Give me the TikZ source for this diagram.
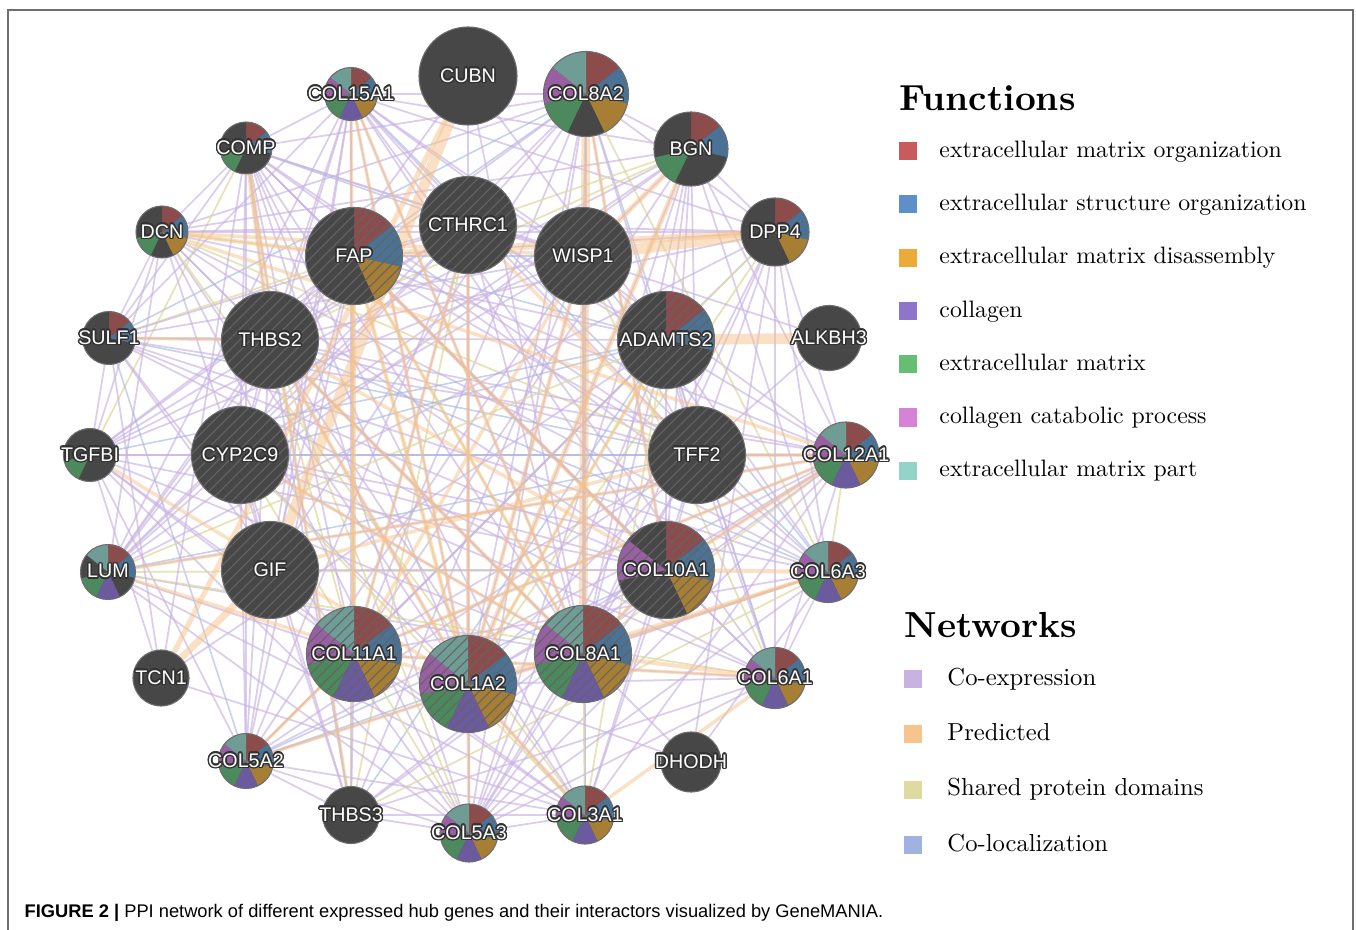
\documentclass[tikz,border=0pt]{standalone}
\usepackage{fontspec}
\usepackage{contour}
\usetikzlibrary{patterns.meta}
\newfontfamily\genefont{Liberation Sans}
\contourlength{0.4pt}
\contournumber{16}

\definecolor{nodegrey}{RGB}{71,71,71}
\definecolor{rimgrey}{RGB}{110,110,110}
\definecolor{hatchgrey}{RGB}{100,100,100}
\definecolor{outlinegrey}{RGB}{50,50,50}
\definecolor{framegrey}{RGB}{110,110,110}
% slice colours
\definecolor{sred}{RGB}{141,76,76}
\definecolor{sblue}{RGB}{74,114,148}
\definecolor{sgold}{RGB}{166,126,52}
\definecolor{spurple}{RGB}{108,90,158}
\definecolor{sgreen}{RGB}{76,137,92}
\definecolor{spink}{RGB}{152,96,162}
\definecolor{steal}{RGB}{112,156,150}
% legend colours
\definecolor{fred}{RGB}{200,92,92}
\definecolor{fblue}{RGB}{94,144,199}
\definecolor{fgold}{RGB}{236,170,56}
\definecolor{fpurple}{RGB}{143,116,204}
\definecolor{fgreen}{RGB}{102,190,115}
\definecolor{fpink}{RGB}{214,131,214}
\definecolor{fteal}{RGB}{148,212,200}
% network colours
\definecolor{coexp}{RGB}{200,178,226}
\definecolor{predicted}{RGB}{246,196,140}
\definecolor{shared}{RGB}{222,218,160}
\definecolor{coloc}{RGB}{160,178,225}

\pgfdeclarelayer{edges}
\pgfsetlayers{edges,main}

\tikzstyle{gene} =
        [
                circle,
                inner sep = 0pt,
                fill = nodegrey,
                draw = rimgrey,
                line width = 0.3pt,
                text = white,
                font = \genefont\fontsize{5.6}{6}\selectfont
        ]
\tikzstyle{hatched} =
        [
                postaction = {pattern = {Lines[angle=45, distance=2.2pt, line width=0.3pt]},
                              pattern color = hatchgrey}
        ]
\tikzstyle{coexpline} = [draw = coexp, line width = 0.5pt, draw opacity = 0.65]
\tikzstyle{sharedline} = [draw = shared, line width = 0.5pt, draw opacity = 0.75]
\tikzstyle{colocline} = [draw = coloc, line width = 0.45pt, draw opacity = 0.6]
\tikzstyle{predline} = [draw = predicted, draw opacity = 0.5]
\tikzstyle{legendbox} = [rectangle, inner sep = 0pt, minimum size = 1.8mm]
\tikzstyle{legendhead} = [inner sep = 0pt, font = \bfseries\fontsize{10}{12}\selectfont, scale = 1.03, transform shape]
\tikzstyle{functext} = [inner sep = 0pt, font = \fontsize{10}{12}\selectfont, scale = 0.676, transform shape]
\tikzstyle{nettext} = [inner sep = 0pt, font = \fontsize{10}{12}\selectfont, scale = 0.70, transform shape]

\tikzset{pie/.style = {path picture = {\drawslices{#1}}}}

\newcommand{\drawslices}[1]{%
  \foreach \col [count=\k from 0] in {#1}{%
    \fill[\col] (path picture bounding box.center) -- ++({90-51.4286*\k}:1cm)
      arc[start angle={90-51.4286*\k}, delta angle=-51.4286, radius=1cm] -- cycle;}}
\newcommand{\glabel}[1]{\makebox[0pt]{\contour{outlinegrey}{#1}}}

\begin{document}
\begin{tikzpicture}[x=0.01cm, y=-0.01cm]
    \useasboundingbox (0,0) rectangle (1356,930);
    \draw[framegrey, line width=0.5pt] (8,930) -- (8,10) -- (1353,10) -- (1353,930);

    % outer ring of genes
    \node [gene, minimum size=9.8mm] (CUBN) at (468,76) {\glabel{CUBN}};
    \node [gene, minimum size=5.3mm, pie={sred,sblue,sgold,spurple,sgreen,spink,steal}] (COL15A1) at (351,94) {\glabel{COL15A1}};
    \node [gene, minimum size=8.5mm, pie={sred,sblue,sgold,nodegrey,sgreen,spink,steal}] (COL8A2) at (586,94) {\glabel{COL8A2}};
    \node [gene, minimum size=5.2mm, pie={sred,sblue,nodegrey,nodegrey,sgreen,nodegrey,nodegrey}] (COMP) at (246,148) {\glabel{COMP}};
    \node [gene, minimum size=7.4mm, pie={sred,sblue,nodegrey,nodegrey,sgreen,nodegrey,nodegrey}] (BGN) at (691,149) {\glabel{BGN}};
    \node [gene, minimum size=5.2mm, pie={sred,sblue,sgold,nodegrey,sgreen,nodegrey,nodegrey}] (DCN) at (162,232) {\glabel{DCN}};
    \node [gene, minimum size=6.8mm, pie={sred,sblue,sgold,nodegrey,nodegrey,nodegrey,nodegrey}] (DPP4) at (775,232) {\glabel{DPP4}};
    \node [gene, minimum size=5.3mm, pie={sred,sblue,nodegrey,nodegrey,nodegrey,nodegrey,nodegrey}] (SULF1) at (109,338) {\glabel{SULF1}};
    \node [gene, minimum size=6.5mm] (ALKBH3) at (829,338) {\glabel{ALKBH3}};
    \node [gene, minimum size=5.3mm, pie={nodegrey,nodegrey,nodegrey,nodegrey,sgreen,nodegrey,nodegrey}] (TGFBI) at (90,455) {\glabel{TGFBI}};
    \node [gene, minimum size=6.6mm, pie={sred,sblue,sgold,spurple,sgreen,spink,steal}] (COL12A1) at (846,455) {\glabel{COL12A1}};
    \node [gene, minimum size=5.5mm, pie={sred,sblue,nodegrey,spurple,sgreen,nodegrey,steal}] (LUM) at (108,572) {\glabel{LUM}};
    \node [gene, minimum size=6.1mm, pie={sred,sblue,sgold,spurple,sgreen,spink,steal}] (COL6A3) at (828,572) {\glabel{COL6A3}};
    \node [gene, minimum size=5.6mm] (TCN1) at (161,678) {\glabel{TCN1}};
    \node [gene, minimum size=6.1mm, pie={sred,sblue,sgold,spurple,sgreen,spink,steal}] (COL6A1) at (775,678) {\glabel{COL6A1}};
    \node [gene, minimum size=5.5mm, pie={sred,sblue,sgold,spurple,sgreen,spink,steal}] (COL5A2) at (246,761) {\glabel{COL5A2}};
    \node [gene, minimum size=6.0mm] (DHODH) at (691,762) {\glabel{DHODH}};
    \node [gene, minimum size=5.7mm] (THBS3) at (351,815) {\glabel{THBS3}};
    \node [gene, minimum size=5.8mm, pie={sred,sblue,sgold,spurple,sgreen,spink,steal}] (COL5A3) at (469,833) {\glabel{COL5A3}};
    \node [gene, minimum size=5.8mm, pie={sred,sblue,sgold,spurple,sgreen,spink,steal}] (COL3A1) at (585,815) {\glabel{COL3A1}};

    % query genes (hatched)
    \node [gene, hatched, minimum size=9.7mm, pie={sred,sblue,sgold,nodegrey,nodegrey,nodegrey,nodegrey}] (FAP) at (354,256) {\glabel{FAP}};
    \node [gene, hatched, minimum size=9.7mm] (CTHRC1) at (468,225) {\glabel{CTHRC1}};
    \node [gene, hatched, minimum size=9.7mm] (WISP1) at (583,256) {\glabel{WISP1}};
    \node [gene, hatched, minimum size=9.7mm] (THBS2) at (270,340) {\glabel{THBS2}};
    \node [gene, hatched, minimum size=9.7mm, pie={sred,sblue,nodegrey,nodegrey,nodegrey,nodegrey,nodegrey}] (ADAMTS2) at (666,340) {\glabel{ADAMTS2}};
    \node [gene, hatched, minimum size=9.7mm] (CYP2C9) at (240,455) {\glabel{CYP2C9}};
    \node [gene, hatched, minimum size=9.7mm] (TFF2) at (697,455) {\glabel{TFF2}};
    \node [gene, hatched, minimum size=9.7mm] (GIF) at (270,570) {\glabel{GIF}};
    \node [gene, hatched, minimum size=9.7mm, pie={sred,sblue,sgold,nodegrey,nodegrey,spink,nodegrey}] (COL10A1) at (666,570) {\glabel{COL10A1}};
    \node [gene, hatched, minimum size=9.5mm, pie={sred,sblue,sgold,spurple,sgreen,spink,steal}] (COL11A1) at (354,654) {\glabel{COL11A1}};
    \node [gene, hatched, minimum size=9.7mm, pie={sred,sblue,sgold,spurple,sgreen,spink,steal}] (COL1A2) at (468,684) {\glabel{COL1A2}};
    \node [gene, hatched, minimum size=9.7mm, pie={sred,sblue,sgold,spurple,sgreen,spink,steal}] (COL8A1) at (583,654) {\glabel{COL8A1}};

    % network edges
    \begin{pgfonlayer}{edges}
        \pgfmathsetseed{17}
        \def\dense{COL15A1,COL8A2,COMP,BGN,DCN,FAP,CTHRC1,WISP1,DPP4,SULF1,THBS2,ADAMTS2,TGFBI,COL12A1,LUM,COL10A1,COL6A3,COL11A1,COL1A2,COL8A1,COL6A1,COL5A2,THBS3,COL5A3,COL3A1,TFF2,CYP2C9}
        \foreach \a [count=\i] in \dense {
            \foreach \b [count=\j] in \dense {
                \ifnum\j>\i
                    \pgfmathrandominteger{\r}{0}{99}
                    \ifnum\r<60 \path[coexpline] (\a) -- (\b); \else
                    \ifnum\r<68 \path[sharedline] (\a) -- (\b); \else
                    \ifnum\r<73 \path[colocline] (\a) -- (\b); \fi\fi\fi
                \fi
            }
        }
        \foreach \a in {CUBN,ALKBH3,DHODH,TCN1,GIF} {
            \foreach \b in \dense {
                \pgfmathrandominteger{\r}{0}{99}
                \ifnum\r<18 \path[coexpline] (\a) -- (\b); \fi
            }
        }
        \foreach \a/\b/\w in {CUBN/GIF/3, ADAMTS2/ALKBH3/3, WISP1/DPP4/3, COL8A2/COL8A1/2.5,
                CUBN/TCN1/1.5, TCN1/GIF/2, FAP/DPP4/2, BGN/COL1A2/1.5, BGN/WISP1/1.5,
                FAP/COL1A2/1.2, FAP/COL11A1/1.2, THBS2/COL1A2/1.2, CTHRC1/COL1A2/1.2,
                CTHRC1/COL11A1/1, WISP1/COL1A2/1.2, COL10A1/COL12A1/1.2, COL10A1/COL6A3/1.2,
                COL10A1/COL8A1/1.2, COL11A1/COL5A2/1, COL1A2/COL3A1/1.2, COL1A2/COL5A3/1,
                COL3A1/COL6A1/1, DCN/FAP/1.2, DCN/WISP1/1, COMP/THBS2/1.2, THBS3/COMP/1,
                LUM/COL1A2/1, COL12A1/COL11A1/1, COL15A1/COL11A1/1, COL6A3/COL1A2/1,
                TFF2/COL12A1/1.2, TFF2/GIF/1, CYP2C9/COL8A1/1, THBS2/COL10A1/1,
                FAP/COL10A1/1.2, DCN/COL12A1/1, SULF1/THBS2/1, LUM/COL12A1/1,
                TGFBI/COL1A2/1, COL5A2/COL6A3/1, COL11A1/COL6A1/1, COL8A1/COL6A1/1.2,
                COL8A2/COL10A1/1, COL15A1/COL8A1/1, CTHRC1/TFF2/1, THBS2/COL8A1/1.2,
                FAP/COL8A1/1, COL15A1/COL1A2/1, WISP1/COL11A1/1, ADAMTS2/COL1A2/1}
            \path[predline, line width=\w pt] (\a) -- (\b);
    \end{pgfonlayer}

    % legend: functions
    \node [legendhead, anchor=base west] (functions) at (899,110) {Functions};
    \foreach \col/\txt [count=\n from 0] in {fred/extracellular matrix organization,
            fblue/extracellular structure organization, fgold/extracellular matrix disassembly,
            fpurple/collagen, fgreen/extracellular matrix, fpink/collagen catabolic process,
            fteal/extracellular matrix part} {
        \node [legendbox, fill=\col] (fbox\n) at (908,{151+53.3*\n}) {};
        \node [functext, anchor=mid west] (ftext\n) at (939,{152+53.3*\n}) {\txt};
    }

    % legend: networks
    \node [legendhead, anchor=base west] (networks) at (904,637) {Networks};
    \foreach \col/\txt [count=\n from 0] in {coexp/Co-expression, predicted/Predicted,
            shared/Shared protein domains, coloc/Co-localization} {
        \node [legendbox, fill=\col] (nbox\n) at (913,{679+55.3*\n}) {};
        \node [nettext, anchor=mid west] (ntext\n) at (947,{680+55.3*\n}) {\txt};
    }

    \node [anchor=base west, inner sep=0pt, font=\genefont\fontsize{5.2}{6}\selectfont] (caption) at (24,917)
        {\textbf{FIGURE 2 |} PPI network of different expressed hub genes and their interactors visualized by GeneMANIA.};
\end{tikzpicture}
\end{document}
